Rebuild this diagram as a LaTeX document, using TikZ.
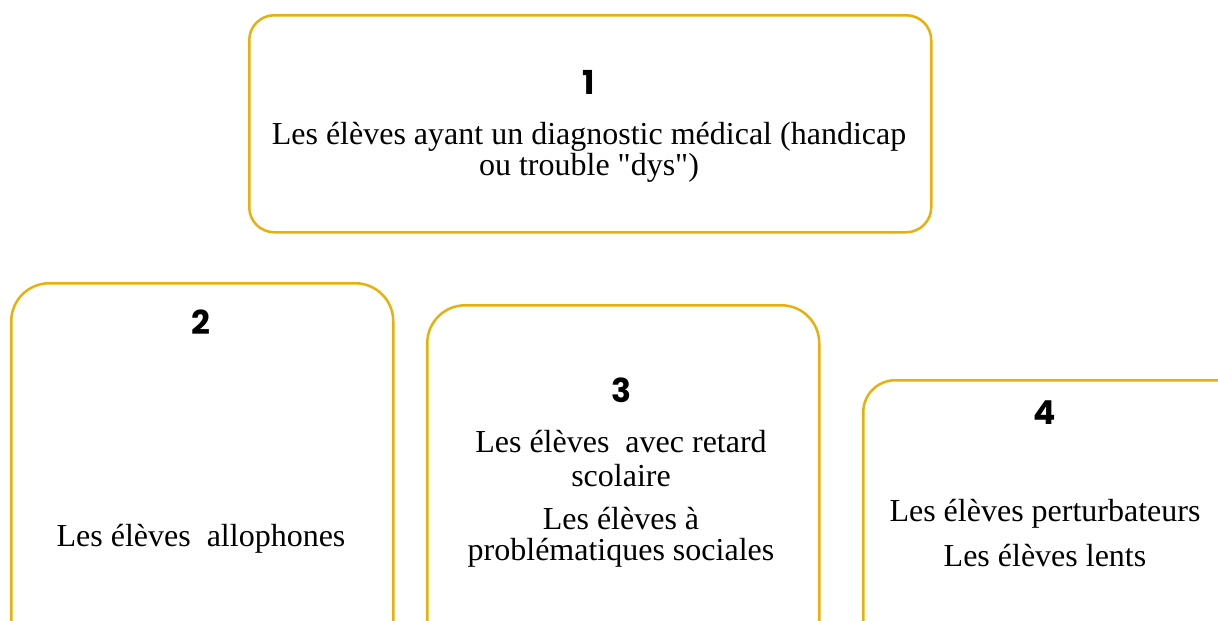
\documentclass[tikz,border=0pt]{standalone}
\usepackage{fontspec}
\setmainfont{Liberation Serif}
\newfontfamily\numfont{Poppins}
\definecolor{boxgold}{RGB}{232,176,10}
\begin{document}
\begin{tikzpicture}[x=1pt,y=-1pt,
  group/.style={draw=boxgold,line width=2.5pt,rounded corners=#1,anchor=north west,inner sep=0pt},
  group/.default=30pt,
  num/.style={font=\numfont\bfseries\fontsize{33}{33}\selectfont},
  desc/.style={font=\fontsize{32}{31}\selectfont,align=center}
]
  \useasboundingbox (0,0) rectangle (1218,621);
  \clip (0,0) rectangle (1218,621);
  % Boxes
  \node[group=25pt,minimum width=682pt,minimum height=217pt] (g1) at (248,14) {};
  \node[group=38pt,minimum width=382pt,minimum height=420pt] (g2) at (10,282) {};
  \node[group=38pt,minimum width=392pt,minimum height=420pt] (g3) at (426,304) {};
  \node[group=32pt,minimum width=420pt,minimum height=420pt] (g4) at (862,379) {};
  % Numbers
  \node[num] (n1) at (589,82) {1};
  \node[num] (n2) at (201,322) {2};
  \node[num] (n3) at (621,390) {3};
  \node[num] (n4) at (1045,413) {4};
  % Texts
  \node[desc] (t1) at (589,152) {Les élèves ayant un diagnostic médical (handicap\\ou trouble \textquotedbl dys\textquotedbl)};
  \node[desc,anchor=base] (t2) at (201,546) {Les élèves\ \ allophones};
  \node[desc,font=\fontsize{32}{34}\selectfont] (t3a) at (621,459) {Les élèves\ \ avec retard\\scolaire};
  \node[desc] (t3b) at (621,537) {Les élèves à\\problématiques sociales};
  \node[desc] (t4) at (1045,533) {Les élèves perturbateurs\\[14pt]Les élèves lents};
\end{tikzpicture}
\end{document}
